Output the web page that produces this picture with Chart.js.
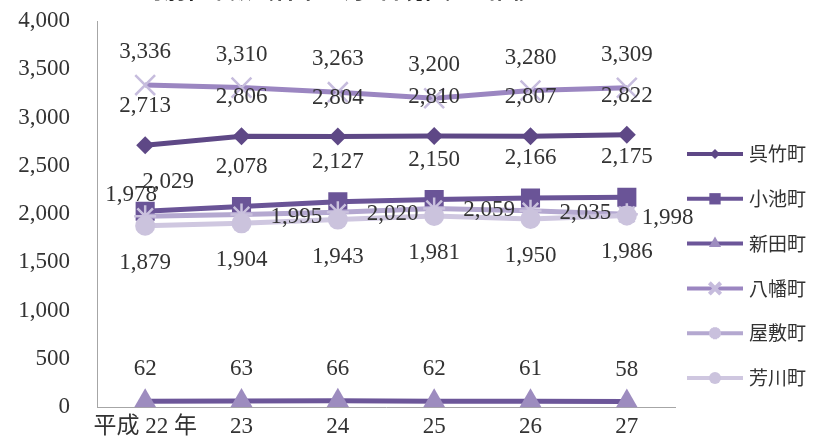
<!DOCTYPE html>
<html>
<head>
<meta charset="utf-8">
<script src="https://cdn.jsdelivr.net/npm/chart.js@4/dist/chart.umd.min.js"></script>
<style>
  html, body { margin: 0; padding: 0; background: #fff; overflow: hidden; }
  #wrap { position: absolute; left: 0; top: -24px; width: 813px; height: 472px; }
</style>
</head>
<body>
<div id="wrap"><canvas id="households"></canvas></div>
<script>
const years = ["平成 22 年", "23", "24", "25", "26", "27"];
const townNames = ["呉竹町", "小池町", "新田町", "八幡町", "屋敷町", "芳川町"];
const kuretake = [2713, 2806, 2804, 2810, 2807, 2822];
const koike = [2029, 2078, 2127, 2150, 2166, 2175];
const nitta = [62, 63, 66, 62, 61, 58];
const yawata = [3336, 3310, 3263, 3200, 3280, 3309];
const yashiki = [1978, 1995, 2020, 2059, 2035, 1998];
const yoshikawa = [1879, 1904, 1943, 1981, 1950, 1986];
const yTicks = [0, 500, 1000, 1500, 2000, 2500, 3000, 3500, 4000];

const serif = "'Liberation Serif', 'Noto Sans CJK JP', serif";
const fmt = (v) => v.toLocaleString("en-US");

// look of each series (line colour, marker, where its value labels sit)
const looks = [
  { line: "#5e4886", fill: "#5e4886", point: "rectRot", r: 9, legendR: 5, dy: -39 },
  { line: "#6a5497", fill: "#6a5497", point: "rect", r: 13.5, legendR: 8, dy: -40 },
  { line: "#6c5699", fill: "#9d8cbf", point: "triangle", r: 13, legendR: 7, dy: -32 },
  { line: "#9b86c1", fill: "#c6bcdd", point: "crossRot", r: 14, legendR: 8, dy: -33 },
  { line: "#b4a8d0", fill: "#c9c0dd", point: "star", r: 11, legendR: 6, dx: 29, dy: 2, side: true },
  { line: "#cfc7e0", fill: "#cbc3dd", point: "circle", r: 10, legendR: 6, dy: 37 },
];
// a few labels that were nudged by hand in the original
const labelNudge = {
  "1:0": { dx: 23, dy: -29 },
  "4:0": { dx: -14, dy: -21, center: true },
  "4:5": { dx: 15, dy: 4 },
};

const seriesValues = [kuretake, koike, nitta, yawata, yashiki, yoshikawa];

const datasets = seriesValues.map((vals, i) => {
  const lk = looks[i];
  const lineMark = lk.point === "crossRot" || lk.point === "star";
  return {
    label: townNames[i],
    data: vals,
    order: 5 - i,
    borderColor: lk.line,
    borderWidth: 5,
    tension: 0,
    pointStyle: lk.point,
    pointRadius: lk.r,
    pointHoverRadius: lk.r,
    pointBackgroundColor: lk.fill,
    pointBorderColor: lk.fill,
    pointBorderWidth: lineMark ? 2.5 : 0,
  };
});

const valueLabels = {
  id: "valueLabels",
  afterDatasetsDraw(chart) {
    const ctx = chart.ctx;
    ctx.save();
    ctx.font = "23px " + serif;
    ctx.fillStyle = "#333";
    ctx.textBaseline = "middle";
    chart.data.datasets.forEach((ds, i) => {
      const lk = looks[i];
      chart.getDatasetMeta(i).data.forEach((pt, j) => {
        const nudge = labelNudge[i + ":" + j];
        let x = pt.x, y = pt.y;
        let align = "center";
        if (nudge) {
          x += nudge.dx; y += nudge.dy;
          align = nudge.center ? "center" : (lk.side ? "left" : "center");
        } else if (lk.side) {
          x += lk.dx; y += lk.dy; align = "left";
        } else {
          y += lk.dy;
        }
        ctx.textAlign = align;
        ctx.fillText(fmt(ds.data[j]), x, y);
      });
    });
    ctx.restore();
  },
};

const sideLegend = {
  id: "sideLegend",
  afterDraw(chart) {
    const ctx = chart.ctx;
    const area = chart.chartArea;
    const x0 = area.right + 12;
    ctx.save();
    chart.data.datasets.forEach((ds, i) => {
      const lk = looks[i];
      const y = area.top + 133 + i * 44.8;
      ctx.strokeStyle = lk.line;
      ctx.lineWidth = 4;
      ctx.beginPath();
      ctx.moveTo(x0, y);
      ctx.lineTo(x0 + 56, y);
      ctx.stroke();
      ctx.fillStyle = lk.fill;
      ctx.strokeStyle = lk.fill;
      const lineMark = lk.point === "crossRot" || lk.point === "star";
      Chart.helpers.drawPoint(ctx, {
        pointStyle: lk.point,
        radius: lk.legendR,
        rotation: 0,
        borderWidth: lineMark ? 1 : 0,
      }, x0 + 28, y);
      ctx.fillStyle = "#333";
      ctx.font = "19px 'Noto Sans CJK JP', sans-serif";
      ctx.textAlign = "left";
      ctx.textBaseline = "middle";
      ctx.fillText(ds.label, x0 + 62, y);
    });
    ctx.restore();
  },
};

new Chart(document.getElementById("households"), {
  type: "line",
  data: { labels: years, datasets: datasets },
  plugins: [valueLabels, sideLegend],
  options: {
    responsive: true,
    maintainAspectRatio: false,
    animation: false,
    layout: { padding: { left: 0, right: 138, top: 0, bottom: 0 } },
    plugins: {
      legend: { display: false },
      tooltip: { enabled: false },
      title: {
        display: true,
        text: "町別世帯数（各年10月1日現在）の推移",
        color: "#222",
        font: { family: "'Noto Sans CJK JP', sans-serif", size: 22 },
        padding: { top: 0, bottom: 18.6 },
      },
    },
    scales: {
      x: {
        offset: true,
        grid: { display: false, drawTicks: false },
        border: { display: true, color: "#a6a6a6", width: 1 },
        ticks: {
          color: "#333",
          padding: 6,
          maxRotation: 0,
          autoSkip: false,
          font: { family: serif, size: 23 },
        },
        afterFit(scale) { scale.height = 29; },
      },
      y: {
        min: 0,
        max: 4000,
        grid: { display: false, drawTicks: false },
        border: { display: true, color: "#a6a6a6", width: 1 },
        afterBuildTicks(scale) { scale.ticks = yTicks.map((v) => ({ value: v })); },
        ticks: {
          color: "#333",
          padding: 27,
          font: { family: serif, size: 23 },
          callback: (v) => fmt(v),
        },
        afterFit(scale) { scale.width = 97; },
      },
    },
  },
});
</script>
</body>
</html>
